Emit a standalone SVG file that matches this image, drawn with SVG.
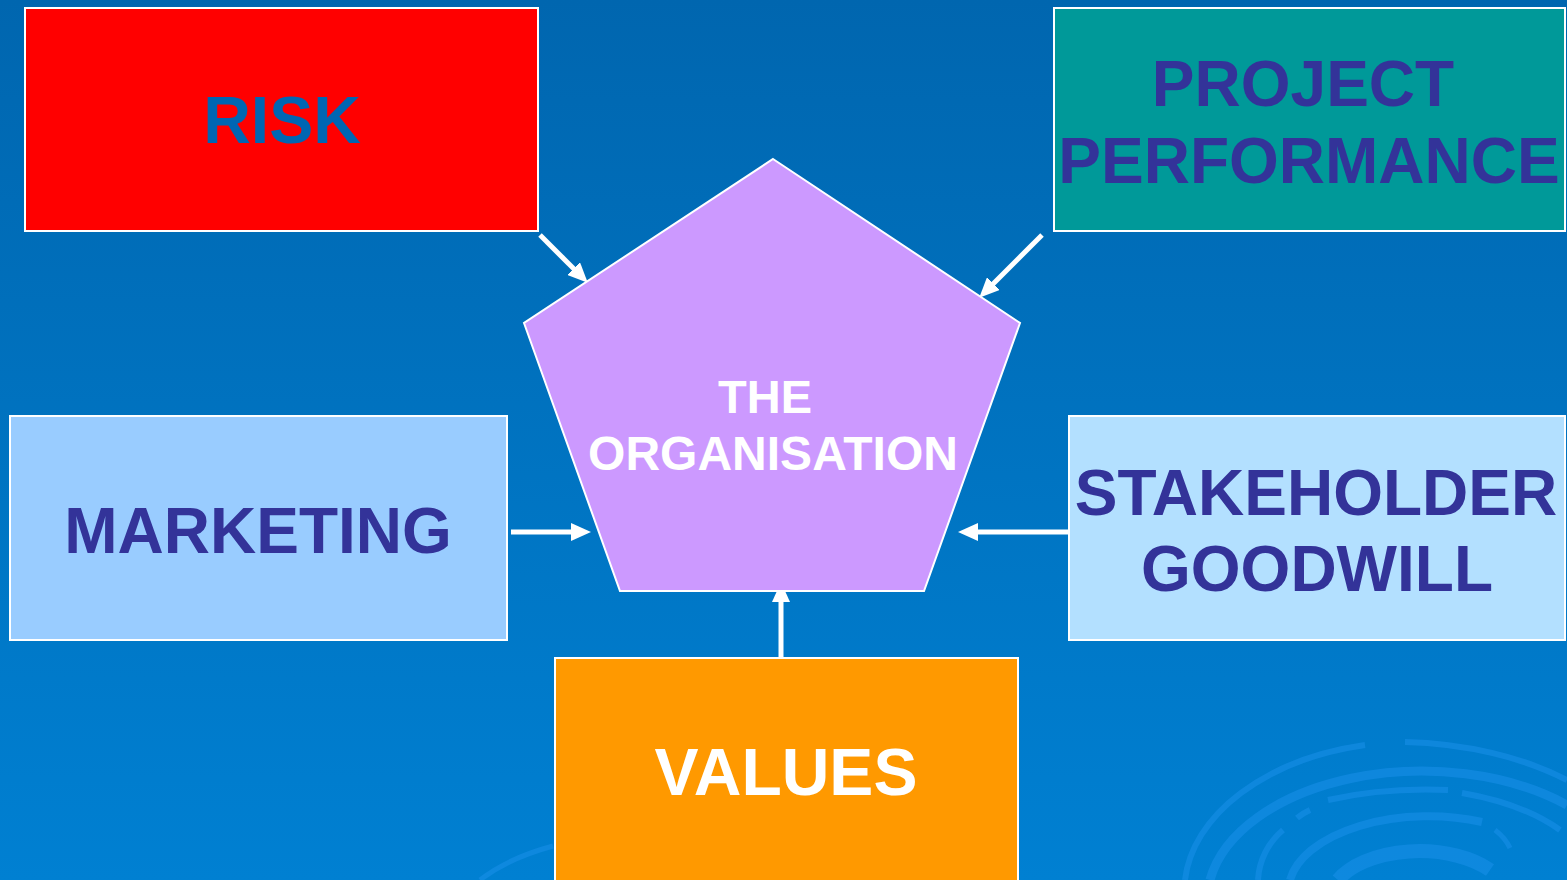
<svg xmlns="http://www.w3.org/2000/svg" width="1567" height="880" viewBox="0 0 1567 880">
  <defs>
    <linearGradient id="bg" x1="0" y1="0" x2="0" y2="1">
      <stop offset="0" stop-color="#0066AF"/>
      <stop offset="1" stop-color="#0080D2"/>
    </linearGradient>
    <marker id="ah" markerUnits="userSpaceOnUse" markerWidth="22" markerHeight="18" refX="9" refY="9" orient="auto">
      <path d="M0,0 L20,9 L0,18 Z" fill="#FFFFFF"/>
    </marker>
    <style>
      .box { stroke: #FFFFFF; stroke-width: 2; }
      .t { font-family: "Liberation Sans", Arial, sans-serif; font-weight: bold; text-anchor: middle; }
      .dk { fill: #333399; }
      .conn { stroke: #FFFFFF; stroke-width: 5; fill: none; marker-end: url(#ah); }
      .sw { fill: none; stroke: #1A90EA; opacity: 0.55; }
    </style>
  </defs>
  <rect width="1567" height="880" fill="url(#bg)"/>
  <g id="decoration">
    <path class="sw" stroke-width="6" d="M1185,880 A230,150 0 0 1 1365,745"/>
    <path class="sw" stroke-width="6" d="M1405,742 A260,150 0 0 1 1567,780"/>
    <path class="sw" stroke-width="9" d="M1210,880 A215,130 0 0 1 1567,805"/>
    <path class="sw" stroke-width="6" d="M1328,800 A200,80 0 0 1 1448,790"/>
    <path class="sw" stroke-width="6" d="M1462,793 A200,100 0 0 1 1560,830"/>
    <path class="sw" stroke-width="6" d="M1297,818 A60,40 0 0 1 1310,810"/>
    <path class="sw" stroke-width="6" d="M1258,880 A70,70 0 0 1 1283,830"/>
    <path class="sw" stroke-width="8" d="M1290,880 A140,75 0 0 1 1482,822"/>
    <path class="sw" stroke-width="14" d="M1338,880 A90,50 0 0 1 1490,870"/>
    <path class="sw" stroke-width="5" d="M1495,830 A80,50 0 0 1 1510,848"/>
    <path class="sw" stroke-width="5" d="M480,880 A200,100 0 0 1 553,846"/>
  </g>
  <g id="connectors">
    <line class="conn" x1="540" y1="235" x2="580" y2="275"/>
    <line class="conn" x1="1042" y1="235" x2="987" y2="290"/>
    <line class="conn" x1="511" y1="532" x2="580" y2="532"/>
    <line class="conn" x1="1069" y1="532" x2="969" y2="532"/>
    <line class="conn" x1="781" y1="662" x2="781" y2="593"/>
  </g>
  <g id="risk">
    <rect class="box" x="25" y="8" width="513" height="223" fill="#FF0000"/>
    <text class="t" x="282" y="143" font-size="66" fill="#0066B3">RISK</text>
  </g>
  <g id="project-performance">
    <rect class="box" x="1054" y="8" width="511" height="223" fill="#009999"/>
    <text class="t dk" x="1303" y="106" font-size="64">PROJECT</text>
    <text class="t dk" x="1309" y="183" font-size="64">PERFORMANCE</text>
  </g>
  <g id="organisation">
    <polygon class="box" points="773,159 1020,323 924,591 620,591 524,323" fill="#CC99FF"/>
    <text class="t" x="765" y="413" font-size="47" fill="#FFFFFF">THE</text>
    <text class="t" x="773" y="470" font-size="48" fill="#FFFFFF">ORGANISATION</text>
  </g>
  <g id="marketing">
    <rect class="box" x="10" y="416" width="497" height="224" fill="#99CCFF"/>
    <text class="t dk" x="258" y="553" font-size="64">MARKETING</text>
  </g>
  <g id="stakeholder-goodwill">
    <rect class="box" x="1069" y="416" width="496" height="224" fill="#B3E0FF"/>
    <text class="t dk" x="1316" y="515" font-size="64">STAKEHOLDER</text>
    <text class="t dk" x="1317" y="591" font-size="64">GOODWILL</text>
  </g>
  <g id="values">
    <rect class="box" x="555" y="658" width="463" height="230" fill="#FF9900"/>
    <text class="t" x="786" y="795" font-size="66" fill="#FFFFFF">VALUES</text>
  </g>
</svg>
